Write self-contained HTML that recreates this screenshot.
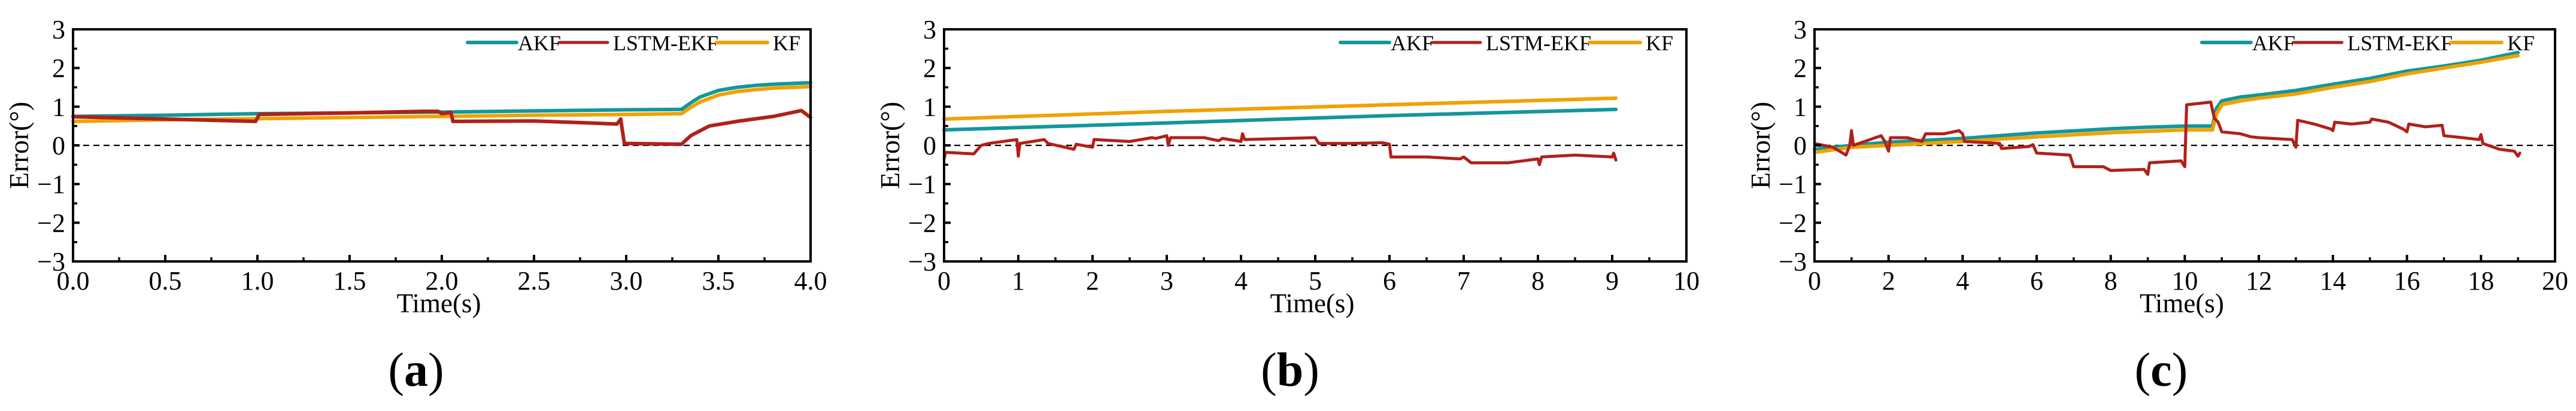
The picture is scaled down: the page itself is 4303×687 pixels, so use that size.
<!DOCTYPE html>
<html><head><meta charset="utf-8">
<style>
html,body{margin:0;padding:0;background:#fff;}
svg{display:block;font-family:"Liberation Serif","Times New Roman",serif;}
</style></head>
<body>
<svg id="fig" width="4303" height="687" viewBox="0 0 4303 687" xmlns="http://www.w3.org/2000/svg"></svg>
<script>
// ---------- data (time, error in degrees) ----------
const aAKF = [[0,0.75],[0.5,0.78],[1.0,0.82],[1.5,0.84],[2.0,0.86],[2.5,0.89],[3.0,0.92],[3.3,0.93],[3.35,1.1],[3.4,1.25],[3.5,1.42],[3.6,1.5],[3.7,1.55],[3.8,1.58],[4.0,1.62]];
const aKF = [[0,0.62],[0.5,0.66],[1.0,0.69],[1.5,0.72],[2.0,0.75],[2.5,0.78],[3.0,0.8],[3.3,0.82],[3.35,0.98],[3.4,1.12],[3.5,1.3],[3.6,1.39],[3.7,1.44],[3.8,1.48],[4.0,1.52]];
const aLSTM = [[0,0.74],[0.5,0.68],[0.99,0.62],[1.01,0.8],[1.5,0.84],[1.9,0.88],[1.98,0.88],[2.0,0.82],[2.05,0.85],[2.06,0.62],[2.5,0.63],[2.8,0.58],[2.95,0.55],[2.97,0.68],[2.99,0.05],[3.3,0.03],[3.35,0.25],[3.45,0.5],[3.6,0.62],[3.8,0.75],[3.95,0.9],[4.0,0.72]];
const bAKF = [[0,0.4],[3,0.58],[6,0.77],[9.05,0.93]];
const bKF = [[0,0.68],[3,0.88],[6,1.05],[9.05,1.22]];
const bLSTM = [[0,-0.35],[0.02,-0.18],[0.4,-0.22],[0.5,0.0],[0.6,0.05],[0.98,0.15],[1.0,-0.28],[1.02,0.05],[1.35,0.15],[1.4,0.05],[1.75,-0.1],[1.78,0.03],[2.0,-0.05],[2.02,0.15],[2.5,0.1],[2.8,0.2],[2.85,0.18],[3.0,0.25],[3.02,0.0],[3.05,0.2],[3.5,0.2],[3.7,0.12],[3.75,0.18],[4.0,0.1],[4.02,0.3],[4.05,0.15],[5.0,0.2],[5.05,0.05],[5.5,0.05],[5.9,0.07],[6.0,0.03],[6.02,-0.3],[6.5,-0.3],[6.95,-0.35],[7.0,-0.3],[7.1,-0.45],[7.6,-0.45],[8.0,-0.35],[8.02,-0.5],[8.05,-0.3],[8.5,-0.25],[9.0,-0.3],[9.02,-0.2],[9.05,-0.38]];
const cAKF = [[0,-0.1],[1,0.0],[2,0.08],[4,0.18],[6,0.32],[8,0.43],[9,0.47],[10,0.5],[10.75,0.5],[10.85,0.95],[11,1.15],[11.5,1.25],[12,1.3],[13,1.42],[14,1.58],[15,1.73],[16,1.92],[17,2.05],[18,2.2],[19,2.4]];
const cKF = [[0,-0.18],[1,-0.05],[2,0.0],[4,0.1],[6,0.22],[8,0.33],[10,0.4],[10.75,0.4],[10.85,0.8],[11,1.05],[11.5,1.15],[12,1.22],[13,1.33],[14,1.5],[15,1.65],[16,1.85],[17,2.0],[18,2.15],[19,2.32]];
const cLSTM = [[0,0.05],[0.5,-0.05],[0.85,-0.25],[0.95,0.0],[1.0,0.38],[1.05,0.0],[1.8,0.25],[1.9,0.1],[2.0,-0.15],[2.05,0.2],[2.5,0.2],[2.9,0.1],[3.0,0.3],[3.5,0.3],[3.9,0.38],[4.0,0.3],[4.05,0.1],[5.0,0.05],[5.05,-0.08],[5.8,-0.03],[5.9,0.02],[6.0,-0.2],[6.9,-0.25],[7.0,-0.55],[7.8,-0.55],[8.0,-0.65],[8.9,-0.62],[9.0,-0.75],[9.05,-0.45],[9.9,-0.4],[10.0,-0.55],[10.05,1.05],[10.7,1.12],[10.8,0.7],[10.9,0.6],[11.0,0.35],[11.5,0.3],[11.8,0.22],[12.0,0.2],[12.9,0.15],[13.0,-0.05],[13.05,0.65],[13.5,0.55],[13.95,0.42],[14.0,0.38],[14.05,0.6],[14.5,0.55],[15.0,0.6],[15.05,0.68],[15.5,0.6],[15.9,0.42],[16.0,0.35],[16.05,0.55],[16.5,0.48],[16.95,0.52],[17.0,0.25],[17.5,0.2],[17.95,0.15],[18.0,0.28],[18.05,0.05],[18.5,-0.1],[18.9,-0.15],[19.0,-0.28],[19.05,-0.2]];
const yTicks = [3,2,1,0,-1,-2,-3];
const aXTicks = ["0.0","0.5","1.0","1.5","2.0","2.5","3.0","3.5","4.0"];
const bXTicks = ["0","1","2","3","4","5","6","7","8","9","10"];
const cXTicks = ["0","2","4","6","8","10","12","14","16","18","20"];
const seriesNames = ["AKF","LSTM-EKF","KF"];

const NS = "http://www.w3.org/2000/svg";
const svg = document.getElementById('fig');
const COL = {AKF:"#13979a", LSTM:"#b0211a", KF:"#f0a202"};
function mk(tag, attrs, parent){ const e=document.createElementNS(NS,tag); for(const k in attrs) e.setAttribute(k,attrs[k]); (parent||svg).appendChild(e); return e; }

const panels = [
 {id:"a", left:122, right:1354, xmax:4, xTicks:aXTicks, tickVals:[0,0.5,1,1.5,2,2.5,3,3.5,4], akf:aAKF, kf:aKF, lstm:aLSTM, lw:6, legEnd:21, cap:"a", capX:695},
 {id:"b", left:1577, right:2817, xmax:10, xTicks:bXTicks, tickVals:[0,1,2,3,4,5,6,7,8,9,10], akf:bAKF, kf:bKF, lstm:bLSTM, lw:5, legEnd:26, cap:"b", capX:2155},
 {id:"c", left:3031, right:4268, xmax:20, xTicks:cXTicks, tickVals:[0,2,4,6,8,10,12,14,16,18,20], akf:cAKF, kf:cKF, lstm:cLSTM, lw:5, legEnd:38, cap:"c", capX:3610}
];
const TOP=49, BOT=437;

panels.forEach(p=>{
  const g = mk('g',{});
  
  
  const xs = v => p.left + (v/p.xmax)*(p.right-p.left);
  const ys = v => BOT - ((v+3)/6)*(BOT-TOP);

  // zero dashed line
  const z = mk('line',{x1:p.left,x2:p.right,y1:ys(0),y2:ys(0),stroke:"#000","stroke-width":2.2,"stroke-dasharray":"10,7"},g);
  
  

  // series
  const draw=(data,color,w,name)=>{
    const d = data.map((pt,i)=>(i?'L':'M')+xs(pt[0]).toFixed(1)+','+ys(pt[1]).toFixed(1)).join(' ');
    const path = mk('path',{d:d,fill:"none",stroke:color,"stroke-width":w,"stroke-linejoin":"round","stroke-linecap":"round"},g);
    
    
  };
  draw(p.akf, COL.AKF, 6, 'akf');
  draw(p.kf, COL.KF, 6, 'kf');
  draw(p.lstm, COL.LSTM, p.lw, 'lstm-ekf');

  // frame
  const fr = mk('rect',{x:p.left,y:TOP,width:p.right-p.left,height:BOT-TOP,fill:"none",stroke:"#000","stroke-width":4},g);
  
  

  // y ticks
  yTicks.forEach((v,i)=>{
    const y=ys(v);
    mk('line',{x1:p.left,x2:p.left+11,y1:y,y2:y,stroke:"#000","stroke-width":4},g);
    if(i<yTicks.length-1){ const ym=ys(v-0.5); mk('line',{x1:p.left,x2:p.left+7,y1:ym,y2:ym,stroke:"#000","stroke-width":3.5},g); }
    const t = mk('text',{x:p.left-13,y:y+15,"font-size":44,"text-anchor":"end",fill:"#000"},g);
    t.textContent = v<0 ? '\u2212'+Math.abs(v) : String(v);
    
    
  });
  // x ticks
  p.tickVals.forEach((v,i)=>{
    const x=xs(v);
    mk('line',{x1:x,x2:x,y1:BOT,y2:BOT-11,stroke:"#000","stroke-width":4},g);
    if(i<p.tickVals.length-1){ const xm=xs((v+p.tickVals[i+1])/2); mk('line',{x1:xm,x2:xm,y1:BOT,y2:BOT-7,stroke:"#000","stroke-width":3.5},g); }
    const t = mk('text',{x:x,y:484,"font-size":44,"text-anchor":"middle",fill:"#000"},g);
    t.textContent = p.xTicks[i];
    
    
  });
  // axis titles
  const xt = mk('text',{x:(p.left+p.right)/2-5,y:522,"font-size":45,"text-anchor":"middle",fill:"#000"},g);
  xt.textContent = "Time(s)";
  
  
  const yx = p.left-75, yy=(TOP+BOT)/2;
  const yt = mk('text',{x:yx,y:yy,"font-size":46,"text-anchor":"middle",fill:"#000",transform:`rotate(-90 ${yx} ${yy})`},g);
  yt.textContent = "Error(\u00b0)";
  
  

  // legend
  const S = p.right - p.legEnd - 552, LY = 71;
  const leg = mk('g',{},g);
  
  
  const items=[[0,82,84,COL.AKF,6],[154,234,243,COL.LSTM,5],[416,501,510,COL.KF,6]];
  items.forEach((it,i)=>{
    const ln = mk('line',{x1:S+it[0],x2:S+it[1],y1:LY,y2:LY,stroke:it[3],"stroke-width":it[4],"stroke-linecap":"round"},leg);
    
    
    const tx = mk('text',{x:S+it[2],y:LY+13,"font-size":36,fill:"#000"},leg);
    tx.textContent = seriesNames[i];
    
    
  });

  // caption
  const cap = mk('text',{x:p.capX,y:645,"font-size":80,"text-anchor":"middle",fill:"#000"},g);
  
  
  const o1=mk('tspan',{},cap); o1.textContent='(';
  const o2=mk('tspan',{"font-weight":"bold"},cap); o2.textContent=p.cap;
  const o3=mk('tspan',{},cap); o3.textContent=')';
});
</script>
</body></html>
